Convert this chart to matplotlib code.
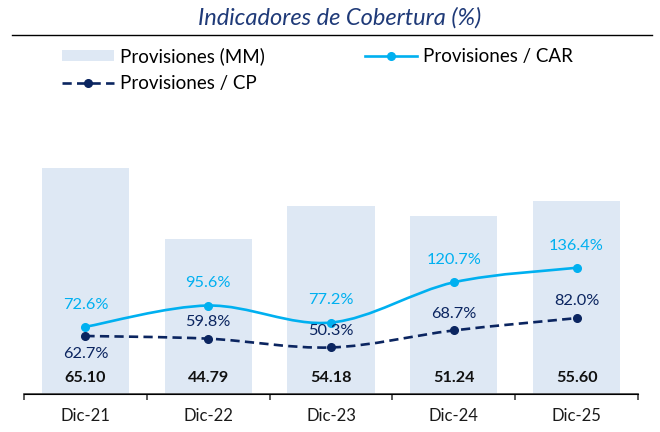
import matplotlib
matplotlib.use('Agg')
import matplotlib.pyplot as plt
import numpy as np
from matplotlib.path import Path
from matplotlib.patches import PathPatch, Patch
from matplotlib.lines import Line2D

plt.rcParams['font.family'] = ['Lato', 'DejaVu Sans']

periodos = ['Dic-21', 'Dic-22', 'Dic-23', 'Dic-24', 'Dic-25']
provisiones_mm = [65.10, 44.79, 54.18, 51.24, 55.60]
prov_car = [72.6, 95.6, 77.2, 120.7, 136.4]
prov_cp = [62.7, 59.8, 50.3, 68.7, 82.0]

c_bar = '#DEE8F4'
c_car = '#00B0F0'
c_cp = '#0B2560'
c_title = '#1F3A78'


def smooth_path(xs, ys):
    # excel-like smoothed line as bezier segments through the points
    pts = np.column_stack([xs, ys]).astype(float)
    n = len(pts)
    verts = [pts[0]]
    codes = [Path.MOVETO]
    for i in range(n - 1):
        p0 = pts[i - 1] if i > 0 else pts[i]
        p1 = pts[i]
        p2 = pts[i + 1]
        p3 = pts[i + 2] if i + 2 < n else pts[i + 1]
        c1 = p1 + (p2 - p0) / 6.0
        c2 = p2 - (p3 - p1) / 6.0
        verts += [c1, c2, p2]
        codes += [Path.CURVE4] * 3
    return Path(verts, codes)


fig = plt.figure(figsize=(6.6, 4.32), dpi=100)
ax = fig.add_axes([24 / 660, 38 / 432, 614 / 660, 277.6 / 432])
ax2 = ax.twinx()

x = np.arange(len(periodos))
ax.bar(x, provisiones_mm, width=0.71, color=c_bar, zorder=1)
ax.set_ylim(0, 80)
ax.set_xlim(-0.5, 4.5)
ax2.set_ylim(0, 300)

for xi, v in zip(x, provisiones_mm):
    ax.text(xi, 4.6, f'{v:.2f}', ha='center', va='center', fontsize=11.6,
            fontweight='bold', color='#111111')

ax2.add_patch(PathPatch(smooth_path(x, prov_car), fill=False, edgecolor=c_car, lw=1.9))
ax2.plot(x, prov_car, 'o', color=c_car, ms=5.5)
ax2.add_patch(PathPatch(smooth_path(x, prov_cp), fill=False, edgecolor=c_cp, lw=1.9,
                        linestyle=(0, (3.5, 2))))
ax2.plot(x, prov_cp, 'o', color=c_cp, ms=5.5)

for xi, v in zip(x, prov_car):
    ax2.annotate(f'{v:.1f}%', (xi, v), xytext=(0, 16), textcoords='offset points',
                 ha='center', va='center', fontsize=11.8, color=c_car)
for i, (xi, v) in enumerate(zip(x, prov_cp)):
    dy = -13 if i == 0 else 12
    ax2.annotate(f'{v:.1f}%', (xi, v), xytext=(0, dy), textcoords='offset points',
                 ha='center', va='center', fontsize=11.8, color=c_cp)

for a in (ax, ax2):
    for s in ['top', 'left', 'right']:
        a.spines[s].set_visible(False)
ax2.set_yticks([])
ax.set_yticks([])
ax.spines['bottom'].set_color('#404040')
ax.spines['bottom'].set_linewidth(1.2)
ax.set_xticks(np.arange(-0.5, 5, 1))
ax.set_xticklabels([])
ax.tick_params(axis='x', which='major', direction='out', length=4, width=1.2, color='#404040')
ax.set_xticks(x, minor=True)
ax.set_xticklabels(periodos, minor=True)
ax.tick_params(axis='x', which='minor', length=0, pad=10, labelsize=12, labelcolor='#1a1a1a')

fig.text(0.5 + 10 / 660, 1 - 18 / 432, 'Indicadores de Cobertura (%)', ha='center', va='center',
         fontsize=17, style='italic', color=c_title)
fig.add_artist(Line2D([12 / 660, 652 / 660], [1 - 35 / 432, 1 - 35 / 432],
                      transform=fig.transFigure, color='black', lw=1))

handles = [Patch(facecolor=c_bar, edgecolor='none', label='Provisiones (MM)'),
           Line2D([], [], color=c_cp, lw=1.9, ls=(0, (3.5, 2)), marker='o', ms=5.5,
                  label='Provisiones / CP'),
           Line2D([], [], color=c_car, lw=1.9, marker='o', ms=5.5, label='Provisiones / CAR')]
fig.legend(handles=handles, ncol=2, loc='upper left', bbox_to_anchor=(62 / 660, 1 - 47 / 432),
           frameon=False, fontsize=13.5, handlelength=2.75, handleheight=0.55, borderpad=0,
           borderaxespad=0, columnspacing=5.37, labelspacing=0.55, handletextpad=0.32)

fig.savefig('out.png', dpi=100)
